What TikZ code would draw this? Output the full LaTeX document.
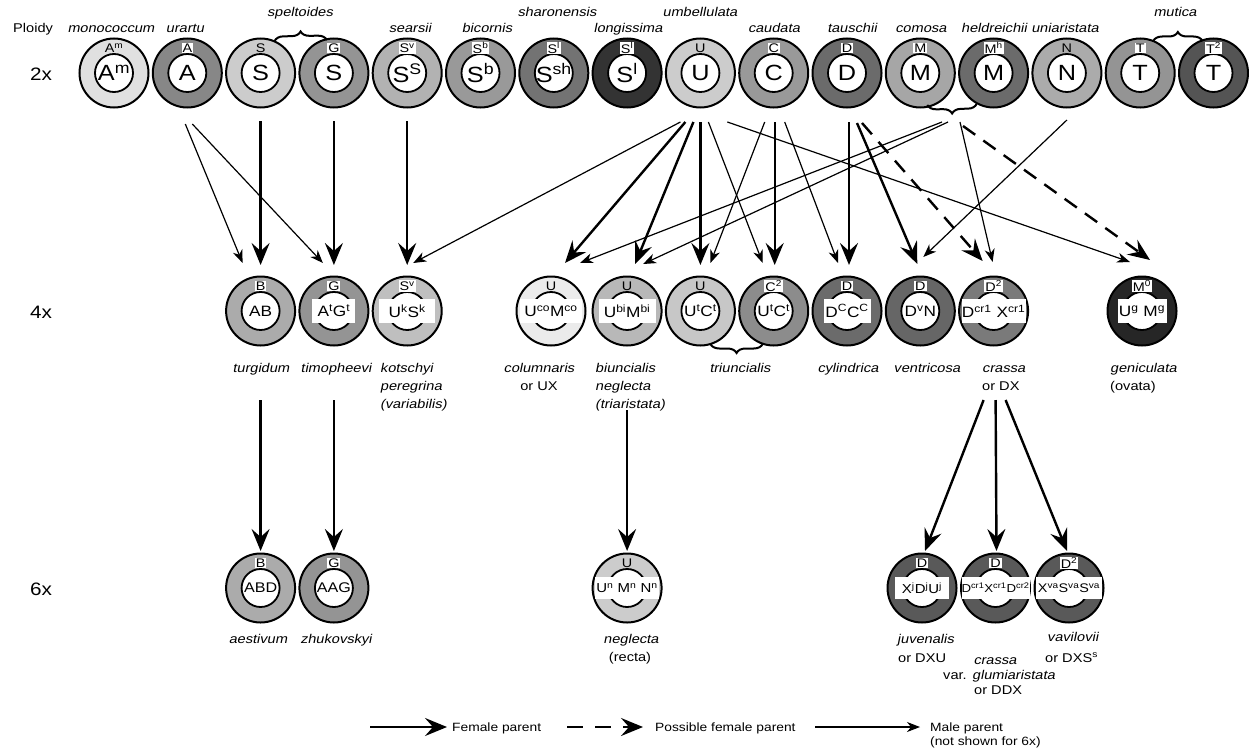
\documentclass[tikz,border=0pt]{standalone}
\usepackage{fontspec}
\setmainfont{Liberation Sans}[FakeStretch=1.15]
\newfontfamily\spit{Liberation Sans}[FakeStretch=1.15, FakeSlant=0.2]
\usetikzlibrary{arrows.meta,calc,decorations.pathreplacing}
\newcommand{\fsz}[1]{\fontsize{#1}{#1}\selectfont}
\newcommand{\su}[1]{\textsuperscript{#1}}
\tikzset{
  ring/.style={circle, draw, line width=2pt, minimum size=69pt, inner sep=0pt},
  hole/.style={circle, draw, fill=white, line width=1.8pt, minimum size=38pt, inner sep=0pt},
  tag/.style={fill=white, inner sep=1pt, font=\fsz{12.5}},
  tagnb/.style={inner sep=1pt, font=\fsz{12.5}},
  bigtxt/.style={inner sep=0pt, font=\fsz{22}},
  midtxt/.style={inner sep=0pt, font=\fsz{15}},
  gbox/.style={fill=white, inner sep=0pt, minimum height=24pt, font=\fsz{15}},
  sbox/.style={fill=white, inner sep=0pt, minimum height=22pt, font=\fsz{13}},
  sp/.style={font=\fsz{12.7}\spit, inner sep=0pt, anchor=base},
  spl/.style={font=\fsz{12.7}\spit, inner sep=0pt, anchor=base west},
  rm/.style={font=\fsz{12.7}, inner sep=0pt, anchor=base},
  rml/.style={font=\fsz{12.7}, inner sep=0pt, anchor=base west},
  ploid/.style={font=\fsz{18}, inner sep=0pt, anchor=base west},
  leg/.style={font=\fsz{12}, inner sep=0pt, anchor=base west},
  fem/.style={line width=2.4pt, -{Stealth[length=22pt,width=18pt,inset=8pt]}},
  posf/.style={fem, dash pattern=on 15pt off 10pt},
  male/.style={line width=1.2pt, -{Stealth[length=13pt,width=10pt,inset=4pt]}},
  brc/.style={line width=2pt, decorate, decoration={brace, amplitude=9pt}}
}
\newcommand{\gen}[6]{%
  \node[ring, fill=#4] (#1) at (#2,#3) {};
  \node[hole] (#1h) at (#1) {};
  \node[#5] (#1t) at ($(#1)+(0,-25)$) {#6};
}
\begin{document}
\begin{tikzpicture}[x=1pt,y=-1pt]
\useasboundingbox (0,0) rectangle (1249,752);
\fill[white] (0,0) rectangle (1249,752);

% ---------- 2x ----------
\gen{mono}{114}{73}{black!12}{tagnb}{A\su{m}}
\gen{urar}{187.3}{73}{black!47}{tag}{A}
\gen{spS}{260.6}{73}{black!20}{tagnb}{S}
\gen{spG}{333.9}{73}{black!42}{tag}{G}
\gen{sear}{407.2}{73}{black!30}{tag}{S\su{v}}
\gen{bico}{480.5}{73}{black!40}{tag}{S\su{b}}
\gen{shar}{553.8}{73}{black!55}{tag}{S\su{l}}
\gen{long}{627.1}{73}{black!80}{tag}{S\su{l}}
\gen{umbe}{700.4}{73}{black!20}{tagnb}{U}
\gen{caud}{773.7}{73}{black!40}{tag}{C}
\gen{taus}{847}{73}{black!58}{tag}{D}
\gen{como}{920.3}{73}{black!35}{tag}{M}
\gen{held}{993.6}{73}{black!58}{tag}{M\su{h}}
\gen{unia}{1066.9}{73}{black!33}{tagnb}{N}
\gen{mutT}{1140.2}{73}{black!42}{tag}{T}
\gen{mutU}{1213.5}{73}{black!67}{tag}{T\su{2}}

\node[bigtxt] (monoi) at (mono) {A\su{m}};
\node[bigtxt] (urari) at (urar) {A};
\node[bigtxt] (spSi) at (spS) {S};
\node[bigtxt] (spGi) at (spG) {S};
\node[bigtxt] (seari) at (sear) {S\su{S}};
\node[bigtxt] (bicoi) at (bico) {S\su{b}};
\node[bigtxt] (shari) at (shar) {S\su{sh}};
\node[bigtxt] (longi) at (long) {S\su{l}};
\node[bigtxt] (umbei) at (umbe) {U};
\node[bigtxt] (caudi) at (caud) {C};
\node[bigtxt] (tausi) at (taus) {D};
\node[bigtxt] (comoi) at (como) {M};
\node[bigtxt] (heldi) at (held) {M};
\node[bigtxt] (uniai) at (unia) {N};
\node[bigtxt] (mutTi) at (mutT) {T};
\node[bigtxt] (mutUi) at (mutU) {T};

% names 2x
\node[rml] (ploidy) at (13,33) {Ploidy};
\node[ploid] (p2) at (30,80) {2x};
\node[ploid] (p4) at (30,318) {4x};
\node[ploid] (p6) at (30,595) {6x};
\node[sp] (n1) at (111,33) {monococcum};
\node[sp] (n2) at (185,33) {urartu};
\node[sp] (n3) at (300,17) {speltoides};
\node[sp] (n4) at (410,33) {searsii};
\node[sp] (n5) at (487,33) {bicornis};
\node[sp] (n6) at (557,17) {sharonensis};
\node[sp] (n7) at (628,33) {longissima};
\node[sp] (n8) at (700,17) {umbellulata};
\node[sp] (n9) at (774,33) {caudata};
\node[sp] (n10) at (852,33) {tauschii};
\node[sp] (n11) at (921,33) {comosa};
\node[sp] (n12) at (994,33) {heldreichii};
\node[sp] (n13) at (1065,33) {uniaristata};
\node[sp] (n14) at (1175,17) {mutica};

% braces
\draw[brc] ($(spS)+(14,-32)$) -- ($(spG)+(-7,-33)$);
\draw[brc] ($(mutT)+(13,-32)$) -- ($(mutU)+(-11,-32)$);
\draw[brc] ($(held)+(-17,31)$) -- ($(como)+(7,32)$);
\coordinate (Mtip) at ($(held)+(-41.6,41)$);

% ---------- 4x ----------
\gen{turg}{260.6}{311}{black!33}{tag}{B}
\gen{timo}{333.9}{311}{black!42}{tag}{G}
\gen{kots}{407.2}{311}{black!25}{tag}{S\su{v}}
\gen{colu}{551}{311}{black!8}{tagnb}{U}
\gen{biun}{627.1}{311}{black!28}{tagnb}{U}
\gen{triU}{700.4}{311}{black!22}{tagnb}{U}
\gen{triC}{773.7}{311}{black!45}{tag}{C\su{2}}
\gen{cyli}{847}{311}{black!58}{tag}{D}
\gen{vent}{920.3}{311}{black!60}{tag}{D}
\gen{cras}{993.6}{311}{black!52}{tag}{D\su{2}}
\gen{geni}{1142}{311}{black!85}{tag}{M\su{0}}

\node[midtxt] (turgi) at (turg) {AB};
\node[gbox, minimum width=43pt] (timoi) at (timo) {A\su{t}G\su{t}};
\node[gbox, minimum width=56pt] (kotsi) at (kots) {U\su{k}S\su{k}};
\node[gbox, minimum width=62pt] (colui) at (colu) {U\su{co}M\su{co}};
\node[gbox, minimum width=57pt] (biuni) at (biun) {U\su{bi}M\su{bi}};
\node[midtxt] (triUi) at (triU) {U\su{t}C\su{t}};
\node[midtxt] (triCi) at (triC) {U\su{t}C\su{t}};
\node[gbox, minimum width=47pt] (cylii) at (cyli) {D\su{C}C\su{C}};
\node[midtxt] (venti) at (vent) {D\su{v}N};
\node[gbox, minimum width=64pt] (crasi) at (cras) {D\su{cr1}\,\,X\su{cr1}};
\node[gbox, minimum width=49pt] (genii) at (geni) {U\su{g} M\su{g}};

\draw[brc] ($(triC)+(-11,33)$) -- ($(triU)+(10,33)$);

% names 4x
\node[sp] (t1) at (261,372) {turgidum};
\node[sp] (t2) at (336,372) {timopheevi};
\node[spl] (t3) at (380,372) {kotschyi};
\node[spl] (t3b) at (380,390) {peregrina};
\node[spl] (t3c) at (380,408) {(variabilis)};
\node[sp] (t4) at (539,372) {columnaris};
\node[rm] (t4b) at (539,390) {or UX};
\node[spl] (t5) at (595,372) {biuncialis};
\node[spl] (t5b) at (595,390) {neglecta};
\node[spl] (t5c) at (595,408) {(triaristata)};
\node[sp] (t6) at (740,372) {triuncialis};
\node[sp] (t7) at (848,372) {cylindrica};
\node[sp] (t8) at (927,372) {ventricosa};
\node[spl] (t9) at (982,372) {crassa};
\node[rml] (t9b) at (982,390) {or DX};
\node[spl] (t10) at (1110,372) {geniculata};
\node[rml] (t10b) at (1110,390) {(ovata)};

% ---------- 6x ----------
\gen{aest}{260.6}{588}{black!33}{tag}{B}
\gen{zhuk}{333.9}{588}{black!42}{tag}{G}
\gen{negl}{627.1}{588}{black!20}{tagnb}{U}
\gen{juve}{922}{588}{black!65}{tag}{D}
\gen{craz}{995.5}{588}{black!65}{tag}{D}
\gen{vavi}{1069}{588}{black!65}{tag}{D\su{2}}

\node[midtxt, font=\fsz{14}] (aesti) at (aest) {ABD};
\node[midtxt, font=\fsz{14}] (zhuki) at (zhuk) {AAG};
\node[sbox, minimum width=64pt] (negli) at (negl) {U\su{n} M\su{n} N\su{n}};
\node[sbox, minimum width=54pt] (juvei) at (juve) {X\su{j}D\su{j}U\su{j}};
\node[sbox, minimum width=66pt, font=\fsz{11.5}] (crazi) at (craz) {D\su{cr1}X\su{cr1}D\su{cr2}};
\node[sbox, minimum width=66pt, font=\fsz{12.5}] (vavii) at (vavi) {X\su{va}S\su{va}S\su{va}};

% names 6x
\node[sp] (s1) at (258,643) {aestivum};
\node[sp] (s2) at (336,643) {zhukovskyi};
\node[sp] (s3) at (631,643) {neglecta};
\node[rm] (s3b) at (630,661) {(recta)};
\node[spl] (s4) at (897,643) {juvenalis};
\node[rml] (s4b) at (898,662) {or DXU};
\node[sp] (s5) at (995,664) {crassa};
\node[rml] (s5b) at (943,679) {var. {\spit glumiaristata}};
\node[rml] (s5c) at (974,694) {or DDX};
\node[spl] (s6) at (1047,641) {vavilovii};
\node[rml] (s6b) at (1045,662) {or DXS\su{s}};

% ---------- arrows 2x -> 4x ----------
\draw[male] ($(urar)+(-2,51)$) -- ($(turg)+(-18,-48)$);
\draw[male] ($(urar)+(5,51)$) -- ($(timo)+(-11,-48)$);
\draw[fem] ($(spS)+(0,48)$) -- ($(turg)+(0,-46)$);
\draw[fem] ($(spG)+(0,48)$) -- ($(timo)+(0,-46)$);
\draw[fem] ($(sear)+(0,48)$) -- ($(kots)+(0,-46)$);
\draw[male] ($(umbe)+(-20,49)$) -- ($(kots)+(6,-48)$);
\draw[fem] ($(umbe)+(-15,49)$) -- ($(colu)+(14,-48)$);
\draw[fem] ($(umbe)+(-7,49)$) -- ($(biun)+(8,-47)$);
\draw[fem] ($(umbe)+(0,49)$) -- ($(triU)+(0,-46)$);
\draw[male] ($(umbe)+(8,49)$) -- ($(triC)+(-11,-48)$);
\draw[male] ($(umbe)+(27,49)$) -- ($(geni)+(-12,-49)$);
\draw[male] ($(caud)+(-9,49)$) -- ($(triU)+(10,-48)$);
\draw[fem] ($(caud)+(1,49)$) -- ($(triC)+(1,-46)$);
\draw[male] ($(caud)+(11,49)$) -- ($(cyli)+(-9,-48)$);
\draw[fem] ($(taus)+(2,49)$) -- ($(cyli)+(2,-46)$);
\draw[fem] ($(taus)+(10,50)$) -- ($(vent)+(-3,-47)$);
\draw[posf] ($(taus)+(15,50)$) -- ($(cras)+(-11,-50)$);
\draw[male] ($(Mtip)+(-10,8)$) -- ($(colu)+(29,-48)$);
\draw[male] ($(Mtip)+(-4,8)$) -- ($(biun)+(16,-47)$);
\draw[male] ($(Mtip)+(8,8)$) -- ($(cras)+(-1,-49)$);
\draw[posf] ($(Mtip)+(11,12)$) -- ($(geni)+(8,-51)$);
\draw[male] ($(unia)+(0,47)$) -- ($(vent)+(3,-54)$);

% ---------- arrows 4x -> 6x ----------
\draw[fem] ($(turg)+(0,89)$) -- ($(aest)+(0,-37)$);
\draw[fem] ($(timo)+(0,89)$) -- ($(zhuk)+(0,-37)$);
\draw[fem] ($(biun)+(0,99)$) -- ($(negl)+(0,-37)$);
\draw[fem] ($(cras)+(-10,89)$) -- ($(juve)+(3,-37)$);
\draw[fem] ($(cras)+(2,89)$) -- ($(craz)+(1,-37)$);
\draw[fem] ($(cras)+(12,89)$) -- ($(vavi)+(-2,-37)$);

% ---------- legend ----------
\coordinate (la1) at (370,727);
\coordinate (la2) at (447,727);
\coordinate (lb1) at (567,727);
\coordinate (lb2) at (643,727);
\coordinate (lc1) at (815,727);
\coordinate (lc2) at (920,727);
\draw[fem] (la1) -- (la2);
\draw[posf, dash pattern=on 16pt off 12pt] (lb1) -- (lb2);
\draw[male] (lc1) -- (lc2);
\node[leg] (lat) at (452,731) {Female parent};
\node[leg] (lbt) at (655,731) {Possible female parent};
\node[leg] (lct) at (930,731) {Male parent};
\node[leg] (lct2) at (930,745) {(not shown for 6x)};
\end{tikzpicture}
\end{document}
